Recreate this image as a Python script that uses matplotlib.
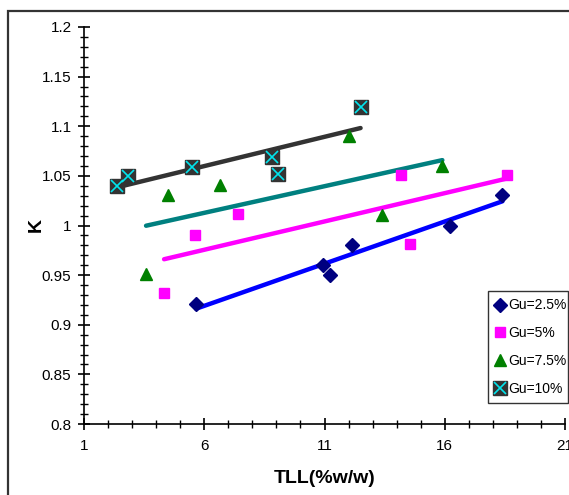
import matplotlib
matplotlib.use("Agg")
import matplotlib.pyplot as plt
import numpy as np
from matplotlib.patches import Rectangle
from matplotlib.ticker import MultipleLocator

plt.rcParams['font.family'] = ['Liberation Sans Narrow', 'Liberation Sans', 'DejaVu Sans']

# datos
x_25 = [5.66, 10.94, 11.23, 12.14, 16.2, 18.4]
k_25 = [0.921, 0.960, 0.950, 0.980, 1.000, 1.031]

x_5 = [4.33, 5.62, 7.4, 14.2, 14.55, 18.6]
k_5 = [0.932, 0.990, 1.012, 1.051, 0.981, 1.051]

x_75 = [3.58, 4.5, 6.65, 12.0, 13.4, 15.9]
k_75 = [0.951, 1.031, 1.041, 1.090, 1.011, 1.060]

x_10 = [2.37, 2.83, 5.5, 8.8, 9.07, 12.5]
k_10 = [1.040, 1.050, 1.059, 1.069, 1.052, 1.119]

fig = plt.figure(figsize=(5.69, 4.95), dpi=100)
ax = fig.add_axes([84/569, 1-424/495, (565-84)/569, (424-27)/495])

def trend(x, y, color):
    x = np.array(x)
    p = np.polyfit(x, y, 1)
    xs = np.array([x.min(), x.max()])
    ax.plot(xs, np.polyval(p, xs), color=color, lw=3.2, solid_capstyle='round', zorder=2)

trend(x_25, k_25, '#0000ff')
trend(x_5, k_5, '#ff00ff')
trend(x_75, k_75, '#008080')
trend(x_10, k_10, '#333333')

h1, = ax.plot(x_25, k_25, 'D', color='#000080', ms=7, ls='none', zorder=3)
h2, = ax.plot(x_5, k_5, 's', color='#ff00ff', ms=7.5, ls='none', zorder=3)
h3, = ax.plot(x_75, k_75, '^', color='#008000', ms=8.5, ls='none', zorder=3)
h4a, = ax.plot(x_10, k_10, 's', color='#333333', ms=10, ls='none', zorder=3)
h4b, = ax.plot(x_10, k_10, 'x', color='#00e5ee', ms=8, mew=1.2, ls='none', zorder=4)

ax.set_xlim(1, 21)
ax.set_ylim(0.8, 1.2)
ax.xaxis.set_minor_locator(MultipleLocator(1))
ax.yaxis.set_minor_locator(MultipleLocator(0.01))
ax.set_xticks([1, 6, 11, 16, 21])
ax.set_xticklabels(['1', '6', '11', '16', '21'])
yt = np.round(np.arange(0.8, 1.2001, 0.05), 2)
ax.set_yticks(yt)
ax.set_yticklabels([('%g' % v) for v in yt])

for s in ['top', 'right']:
    ax.spines[s].set_visible(False)
for s in ['left', 'bottom']:
    ax.spines[s].set_linewidth(1.2)

ax.tick_params(which='major', direction='inout', length=8, width=1.2, labelsize=11, pad=5)
ax.tick_params(which='minor', direction='inout', length=6, width=1.0)
ax.tick_params(axis='x', which='major', pad=7)

ax.set_xlabel('TLL(%w/w)', fontsize=14, fontweight='bold', labelpad=12)
ax.set_ylabel('K', fontsize=14, fontweight='bold', labelpad=-2)

leg = ax.legend([h1, h2, h3, (h4a, h4b)], ['Gu=2.5%', 'Gu=5%', 'Gu=7.5%', 'Gu=10%'],
                loc='lower left', bbox_to_anchor=((488-84)/481, (424-403)/397, 80/481, 120/397),
                mode='expand', fontsize=10, frameon=True, fancybox=False,
                handlelength=0.7, handletextpad=0.25, borderpad=0.5, labelspacing=1.0,
                borderaxespad=0)
leg.get_frame().set_edgecolor('black')
leg.get_frame().set_linewidth(1.0)

fig.patches.append(Rectangle((8/569, -0.1), 1.2, 1 - 11/495 + 0.1, transform=fig.transFigure,
                             fill=False, edgecolor='#333333', lw=1.6, zorder=10))

fig.savefig('out.png', dpi=100)
